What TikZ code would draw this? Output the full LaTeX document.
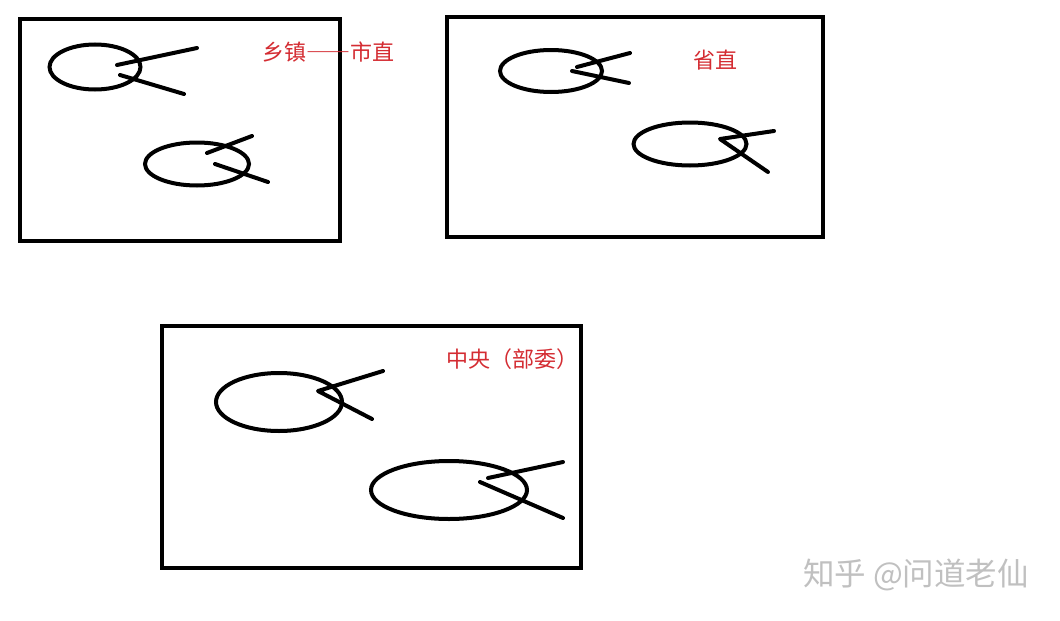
\documentclass[tikz,border=0pt]{standalone}
\usepackage{fontspec}
\newfontfamily\cjk{Noto Sans CJK SC}
\usetikzlibrary{shapes.geometric}
\definecolor{labelred}{RGB}{212,44,50}
\definecolor{wmgray}{RGB}{192,192,192}
\begin{document}
\begin{tikzpicture}[x=1pt,y=-1pt,
  frame/.style={draw=black,line width=4.5pt},
  fish/.style={draw=black,ellipse,line width=4pt,inner sep=0pt},
  stroke/.style={draw=black,line width=4pt,line cap=round},
  lbl/.style={text=labelred,font=\cjk\fontsize{22}{22}\selectfont,inner sep=0pt},
  wm/.style={text=wmgray,font=\cjk\fontsize{31.5}{31.5}\selectfont,inner sep=0pt}]
\useasboundingbox[fill=white] (0,0) rectangle (1060,621);
% boxes
\draw[frame] (20,19) rectangle (340,241);
\draw[frame] (447,17) rectangle (823,237);
\draw[frame] (162,326) rectangle (581,568);
% box 1
\node[fish,minimum width=91pt,minimum height=45pt] (e1a) at (95,67) {};
\coordinate (a1s) at (117,65); \coordinate (a1e) at (197,48);
\coordinate (a2s) at (120,75); \coordinate (a2e) at (184,94);
\draw[stroke] (a1s) -- (a1e);
\draw[stroke] (a2s) -- (a2e);
\node[fish,minimum width=104pt,minimum height=43pt] (e1b) at (197,164) {};
\coordinate (b1s) at (207,153); \coordinate (b1e) at (252,136);
\coordinate (b2s) at (215,164); \coordinate (b2e) at (268,182);
\draw[stroke] (b1s) -- (b1e);
\draw[stroke] (b2s) -- (b2e);
\node[lbl] (l1) at (328,52) {乡镇{\addfontfeatures{CharacterWidth=Full}——}市直};
% box 2
\node[fish,minimum width=102pt,minimum height=42pt] (e2a) at (551,71) {};
\coordinate (c1s) at (577,67); \coordinate (c1e) at (630,53);
\coordinate (c2s) at (572,71); \coordinate (c2e) at (629,83);
\draw[stroke] (c1s) -- (c1e);
\draw[stroke] (c2s) -- (c2e);
\node[fish,minimum width=113pt,minimum height=43pt] (e2b) at (690,144) {};
\coordinate (d0) at (720,139); \coordinate (d1e) at (774,131); \coordinate (d2e) at (768,172);
\draw[stroke,line join=round] (d1e) -- (d0) -- (d2e);
\node[lbl] (l2) at (715,60) {省直};
% box 3
\node[fish,minimum width=126pt,minimum height=58pt] (e3a) at (279,402) {};
\coordinate (f0) at (318,391); \coordinate (f1e) at (383,371); \coordinate (f2e) at (372,419);
\draw[stroke,line join=round] (f1e) -- (f0) -- (f2e);
\node[fish,minimum width=156pt,minimum height=58pt] (e3b) at (449,490) {};
\coordinate (g1s) at (488,478); \coordinate (g1e) at (563,462);
\coordinate (g2s) at (480,482); \coordinate (g2e) at (563,518);
\draw[stroke] (g1s) -- (g1e);
\draw[stroke] (g2s) -- (g2e);
\node[lbl] (l3) at (512,359) {中央（部委）};
% watermark
\node[wm] (wm) at (916,575) {知乎 @问道老仙};
\end{tikzpicture}
\end{document}
